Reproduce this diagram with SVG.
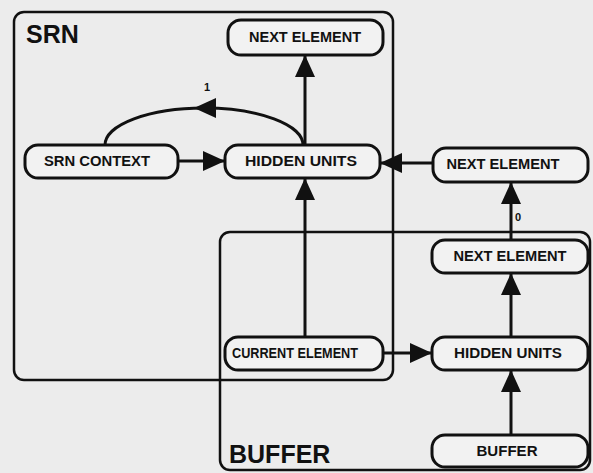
<svg xmlns="http://www.w3.org/2000/svg" width="593" height="473" viewBox="0 0 593 473">
<defs>
<marker id="ah" markerUnits="userSpaceOnUse" markerWidth="22" markerHeight="20" refX="21" refY="10" orient="auto">
<path d="M0,0 L22,10 L0,20 Z" fill="#111"/>
</marker>
<style>
.frame{fill:none;stroke:#111;stroke-width:2.5}
.node rect{fill:#f2f2f2;stroke:#111;stroke-width:3}
.node text{font-family:"Liberation Sans",Arial,sans-serif;font-weight:bold;font-size:14px;fill:#111;text-anchor:middle}
.title{font-family:"Liberation Sans",Arial,sans-serif;font-weight:bold;font-size:25px;fill:#111}
.lbl{font-family:"Liberation Sans",Arial,sans-serif;font-weight:bold;font-size:11px;fill:#111;text-anchor:middle}
.conn path{fill:none;stroke:#111;stroke-width:3}
.conn path.a{marker-end:url(#ah)}
</style>
</defs>
<rect width="593" height="473" fill="#ececec"/>
<g id="srn-frame">
<rect class="frame" x="14" y="12" width="379" height="368" rx="10"/>
<text class="title" x="26" y="43">SRN</text>
</g>
<g id="buffer-frame">
<rect class="frame" x="220" y="232" width="370" height="238" rx="10"/>
<text class="title" x="229" y="463">BUFFER</text>
</g>
<g class="conn" id="connectors">
<path class="a" d="M305,145 L305,56"/>
<path class="a" d="M178,161 L224,161"/>
<path d="M303,145 A99,37 0 0 0 105,145"/>
<polygon points="194,108 216,98 216,118" fill="#111"/>
<path class="a" d="M433,163 L381,163"/>
<path class="a" d="M305,337 L305,179"/>
<path class="a" d="M383,353 L431,353"/>
<path class="a" d="M511,337 L511,274"/>
<path class="a" d="M511,435 L511,371"/>
<path class="a" d="M511,240 L511,183"/>
</g>
<text class="lbl" x="207" y="91">1</text>
<text class="lbl" x="518" y="221">0</text>
<g class="node" id="n-next-top">
<rect x="228" y="20" width="155" height="35" rx="13"/>
<text x="305" y="42" textLength="112" lengthAdjust="spacingAndGlyphs">NEXT ELEMENT</text>
</g>
<g class="node" id="n-srn-context">
<rect x="25" y="145" width="153" height="33" rx="13"/>
<text x="97" y="166" textLength="106" lengthAdjust="spacingAndGlyphs">SRN CONTEXT</text>
</g>
<g class="node" id="n-hidden-srn">
<rect x="225" y="145" width="155" height="33" rx="13"/>
<text x="301" y="166" textLength="112" lengthAdjust="spacingAndGlyphs">HIDDEN UNITS</text>
</g>
<g class="node" id="n-next-right">
<rect x="433" y="148" width="155" height="34" rx="13"/>
<text x="503" y="169" textLength="113" lengthAdjust="spacingAndGlyphs">NEXT ELEMENT</text>
</g>
<g class="node" id="n-next-buffer">
<rect x="432" y="240" width="156" height="33" rx="13"/>
<text x="510" y="261" textLength="113" lengthAdjust="spacingAndGlyphs">NEXT ELEMENT</text>
</g>
<g class="node" id="n-current">
<rect x="225" y="337" width="158" height="33" rx="13"/>
<text x="295" y="358" textLength="126" lengthAdjust="spacingAndGlyphs">CURRENT ELEMENT</text>
</g>
<g class="node" id="n-hidden-buffer">
<rect x="432" y="337" width="156" height="33" rx="13"/>
<text x="508" y="358" textLength="108" lengthAdjust="spacingAndGlyphs">HIDDEN UNITS</text>
</g>
<g class="node" id="n-buffer">
<rect x="432" y="435" width="156" height="32" rx="13"/>
<text x="507" y="456" textLength="61" lengthAdjust="spacingAndGlyphs">BUFFER</text>
</g>
</svg>
